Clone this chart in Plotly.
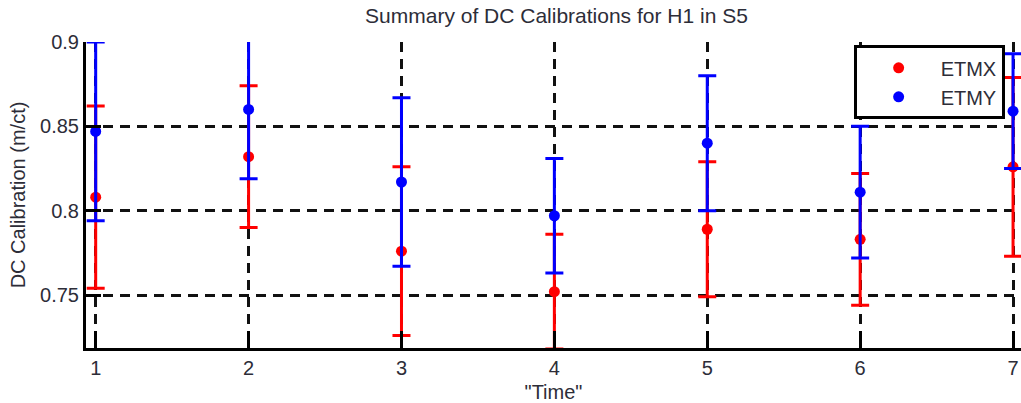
import plotly.graph_objects as go

# Calibration runs ("Time" index) and the measured DC calibrations with 1-sigma errors
runs = [1, 2, 3, 4, 5, 6, 7]
etmx = [0.808, 0.832, 0.776, 0.752, 0.789, 0.783, 0.826]
etmx_err = [0.054, 0.042, 0.050, 0.034, 0.040, 0.039, 0.053]
etmy = [0.847, 0.860, 0.817, 0.797, 0.840, 0.811, 0.859]
etmy_err = [0.053, 0.041, 0.050, 0.034, 0.040, 0.039, 0.034]
y_ticks = [0.75, 0.8, 0.85, 0.9]
y_tick_text = ["0.75", "0.8", "0.85", "0.9"]

FONT = "Liberation Sans, Arial, Helvetica, sans-serif"
TEXT = "#2d2d38"


def series(name, y, err, color):
    return go.Scatter(
        x=runs, y=y, name=name, mode="markers",
        marker=dict(color=color, size=11),
        error_y=dict(type="data", array=err, visible=True,
                     color=color, thickness=3, width=9),
        cliponaxis=False,
    )


fig = go.Figure([
    series("ETMX", etmx, etmx_err, "#ff0000"),
    series("ETMY", etmy, etmy_err, "#0000ff"),
])

axis_common = dict(
    showline=True, linecolor="black", linewidth=3,
    showgrid=True, gridcolor="#111111", gridwidth=2.5, griddash="10px,7px",
    ticks="inside", tickcolor="black", tickwidth=3,
    zeroline=False, mirror=False,
    tickfont=dict(family=FONT, size=20, color=TEXT),
)

fig.update_xaxes(
    range=[0.9366, 7.052], tickvals=runs, ticklen=17,
    title=dict(text='"Time"', font=dict(family=FONT, size=20, color=TEXT), standoff=8),
    **axis_common,
)
fig.update_yaxes(
    range=[0.7186, 0.9], tickvals=y_ticks, ticktext=y_tick_text, ticklen=15,
    title=dict(text="DC Calibration (m/ct)", font=dict(family=FONT, size=20, color=TEXT), standoff=10),
    **axis_common,
)

fig.update_layout(
    width=1021, height=403,
    margin=dict(l=86, r=0, t=42, b=55),
    paper_bgcolor="white", plot_bgcolor="white",
    title=dict(text="Summary of DC Calibrations for H1 in S5",
               font=dict(family=FONT, size=21, color=TEXT),
               x=0.545, xanchor="center", y=0.962, yanchor="middle"),
    legend=dict(
        x=0.821, xanchor="left", y=0.989, yanchor="top",
        bgcolor="white", bordercolor="black", borderwidth=3,
        font=dict(family=FONT, size=20, color=TEXT),
        itemwidth=74, tracegroupgap=0,
    ),
    showlegend=True,
)

fig.write_html("out.html")
